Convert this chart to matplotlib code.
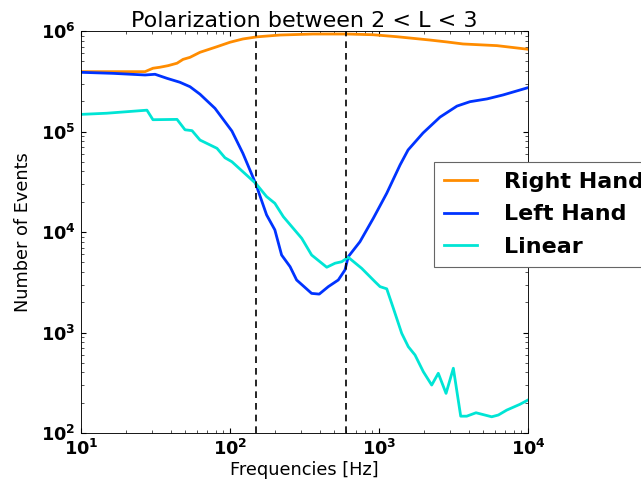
import matplotlib
matplotlib.use("Agg")
import matplotlib.pyplot as plt

# ---- data ----
right_freq = [10, 26.9, 30.4, 33.9, 38.4, 44.1, 48.4, 53.9, 62.9, 81.8, 100, 122, 152,
              217, 361, 610, 912, 1321, 2198, 2859, 3664, 6194, 10000]
right_vals = [3.94e5, 3.94e5, 4.26e5, 4.36e5, 4.52e5, 4.78e5, 5.22e5, 5.47e5, 6.14e5,
              6.98e5, 7.73e5, 8.33e5, 8.75e5, 9.12e5, 9.33e5, 9.33e5, 9.18e5, 8.77e5,
              8.13e5, 7.78e5, 7.43e5, 7.15e5, 6.58e5]

left_freq = [10, 16.4, 26.9, 31.4, 37.8, 46.1, 53.9, 62.9, 79.3, 103, 122, 149, 176, 200,
             222, 253, 280, 353, 397, 457, 533, 591, 622, 745, 916, 1127, 1385, 1567,
             1974, 2566, 3336, 4080, 5309, 6799, 10000]
left_vals = [3.88e5, 3.79e5, 3.65e5, 3.71e5, 3.38e5, 3.09e5, 2.79e5, 2.35e5, 1.70e5,
             1.01e5, 6.07e4, 3.01e4, 1.48e4, 1.05e4, 5.90e3, 4.52e3, 3.33e3, 2.45e3,
             2.41e3, 2.86e3, 3.33e3, 4.19e3, 5.68e3, 8.00e3, 1.37e4, 2.43e4, 4.65e4,
             6.55e4, 9.66e4, 1.39e5, 1.79e5, 1.98e5, 2.11e5, 2.31e5, 2.73e5]

lin_freq = [10, 14.9, 27.7, 30.4, 44.1, 49.9, 55.6, 62.9, 81.8, 92.5, 103, 122, 149, 176,
            200, 228, 303, 353, 446, 507, 562, 622, 765, 940, 1016, 1127, 1247, 1420,
            1573, 1745, 1984, 2258, 2500, 2818, 3155, 3535, 3880, 4478, 5705, 6325,
            7200, 8830, 10000]
lin_vals = [1.48e5, 1.52e5, 1.63e5, 1.31e5, 1.32e5, 1.04e5, 1.02e5, 8.22e4, 6.80e4,
            5.48e4, 5.00e4, 3.98e4, 3.04e4, 2.25e4, 1.93e4, 1.42e4, 8.65e3, 5.90e3,
            4.46e3, 4.89e3, 5.06e3, 5.60e3, 4.35e3, 3.20e3, 2.86e3, 2.72e3, 1.75e3,
            982, 722, 597, 407, 300, 393, 248, 441, 147, 147, 159, 145, 151, 169, 193, 213]

band_edges = [150, 600]

labels = ["Right Hand", "Left Hand", "Linear"]
colors = ["#FF8C00", "#0033FF", "#00E5D5"]
title = "Polarization between 2 < L < 3"
xlabel = "Frequencies [Hz]"
ylabel = "Number of Events"

# ---- figure ----
W, H, DPI = 641, 484, 80
fig = plt.figure(figsize=(W / DPI, H / DPI), dpi=DPI)
ax = fig.add_axes([81 / W, 1 - 433 / H, (528 - 81) / W, (433 - 31) / H])

for f, v, lab, c in zip([right_freq, left_freq, lin_freq],
                        [right_vals, left_vals, lin_vals], labels, colors):
    ax.plot(f, v, color=c, lw=2.5, label=lab)

for b in band_edges:
    ax.axvline(b, color="black", ls="--", lw=1.5, dashes=(4, 3))

ax.set_xscale("log")
ax.set_yscale("log")
ax.set_xlim(10, 1e4)
ax.set_ylim(1e2, 1e6)

ax.tick_params(which="both", direction="in", top=True, right=True)
ax.tick_params(which="major", length=4.5, width=1, pad=5, labelsize=16)
ax.tick_params(which="minor", length=2.5, width=0.6)
for lbl in ax.get_xticklabels() + ax.get_yticklabels():
    lbl.set_fontweight("bold")

ax.set_title(title, fontsize=20, pad=3)
ax.set_xlabel(xlabel, fontsize=16, labelpad=2)
ax.set_ylabel(ylabel, fontsize=16, labelpad=8)

leg = ax.legend(loc="upper left", bbox_to_anchor=(434 / W, 1 - 162 / H),
                bbox_transform=fig.transFigure, borderaxespad=0,
                prop={"weight": "bold", "size": 20}, handlelength=1.5,
                handletextpad=1.2, borderpad=0.45, labelspacing=0.56,
                fancybox=False, framealpha=1)
leg.get_frame().set_edgecolor("0.4")
leg.get_frame().set_linewidth(1.0)

fig.savefig("out.png", dpi=DPI)
